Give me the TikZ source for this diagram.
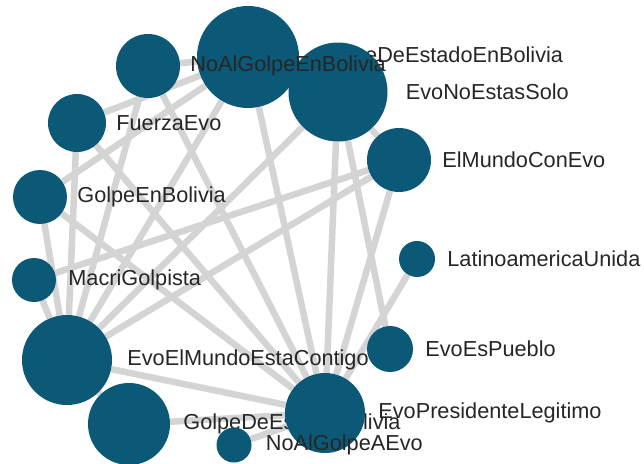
\documentclass[tikz,border=0pt]{standalone}
\usepackage{fontspec}
\setmainfont{Liberation Sans}
\usetikzlibrary{positioning,backgrounds}
\definecolor{tagblue}{RGB}{11,89,118}
\definecolor{edgegray}{RGB}{212,212,212}
\definecolor{namegray}{RGB}{38,38,38}

\begin{document}
\begin{tikzpicture}[x=1pt,y=-1pt,
    tag/.style={circle, fill=tagblue, inner sep=0pt, minimum size=#1},
    tagname/.style={text=namegray, inner sep=0pt, font=\fontsize{21.7}{26}\selectfont},
    link/.style={draw=edgegray, line width=6.5pt}]
        \path[use as bounding box] (0,0) rectangle (644,463);

        \node[tag=102pt] (gdeb) at (248,57) {};
        \node[tagname, right=20pt of gdeb] (gdeb-l) {GolpeDeEstadoEnBolivia};
        \node[tag=99pt] (enes) at (338,92) {};
        \node[tagname, right=18pt of enes] (enes-l) {EvoNoEstasSolo};
        \node[tag=64pt] (emce) at (399,160) {};
        \node[tagname, right=11pt of emce] (emce-l) {ElMundoConEvo};
        \node[tag=36pt] (lu) at (417,259) {};
        \node[tagname, right=12pt of lu] (lu-l) {LatinoamericaUnida};
        \node[tag=46pt] (eep) at (390,349) {};
        \node[tagname, right=12pt of eep] (eep-l) {EvoEsPueblo};

        \node[tag=82pt] (gdebo) at (129,424) {};
        \node[tagname, right=13pt of gdebo] (gdebo-l) {GolpeDeEstadoBolivia};
        \node[tag=80pt] (epl) at (325,413) {};
        \node[tagname, right=13pt of epl] (epl-l) {EvoPresidenteLegitimo};
        \node[tag=35pt] (nagae) at (234,445) {};
        \node[tagname, right=14pt of nagae] (nagae-l) {NoAlGolpeAEvo};

        \node[tag=64pt] (nagb) at (148,66) {};
        \node[tagname, right=10pt of nagb] (nagb-l) {NoAlGolpeEnBolivia};
        \node[tag=58pt] (fe) at (77,123) {};
        \node[tagname, right=10pt of fe] (fe-l) {FuerzaEvo};
        \node[tag=54pt] (geb) at (40,197) {};
        \node[tagname, right=10pt of geb] (geb-l) {GolpeEnBolivia};
        \node[tag=44pt] (mg) at (34,280) {};
        \node[tagname, right=12pt of mg] (mg-l) {MacriGolpista};
        \node[tag=90pt] (eemec) at (67,360) {};
        \node[tagname, right=15pt of eemec] (eemec-l) {EvoElMundoEstaContigo};

        \begin{scope}[on background layer]
        \fill[white] (0,0) rectangle (644,463);
        \path[link] (nagb) -- (gdeb);
        \path[link] (nagb) -- (eemec);
        \path[link] (nagb) -- (epl);
        \path[link] (fe) -- (gdeb);
        \path[link] (fe) -- (eemec);
        \path[link] (fe) -- (epl);
        \path[link] (geb) -- (gdeb);
        \path[link] (geb) -- (eemec);
        \path[link] (geb) -- (epl);
        \path[link] (mg) -- (eemec);
        \path[link] (mg) -- (emce);
        \path[link] (gdeb) -- (eemec);
        \path[link] (gdeb) -- (epl);
        \path[link] (enes) -- (eemec);
        \path[link] (enes) -- (epl);
        \path[link] (enes) -- (eep);
        \path[link] (enes) -- (emce);
        \path[link] (emce) -- (eemec);
        \path[link] (emce) -- (epl);
        \path[link] (eemec) -- (epl);
        \path[link] (eemec) -- (gdebo);
        \path[link] (gdebo) -- (epl);
        \path[link] (nagae) -- (epl);
        \path[link] (lu) -- (epl);
        \end{scope}
    \end{tikzpicture}
\end{document}
